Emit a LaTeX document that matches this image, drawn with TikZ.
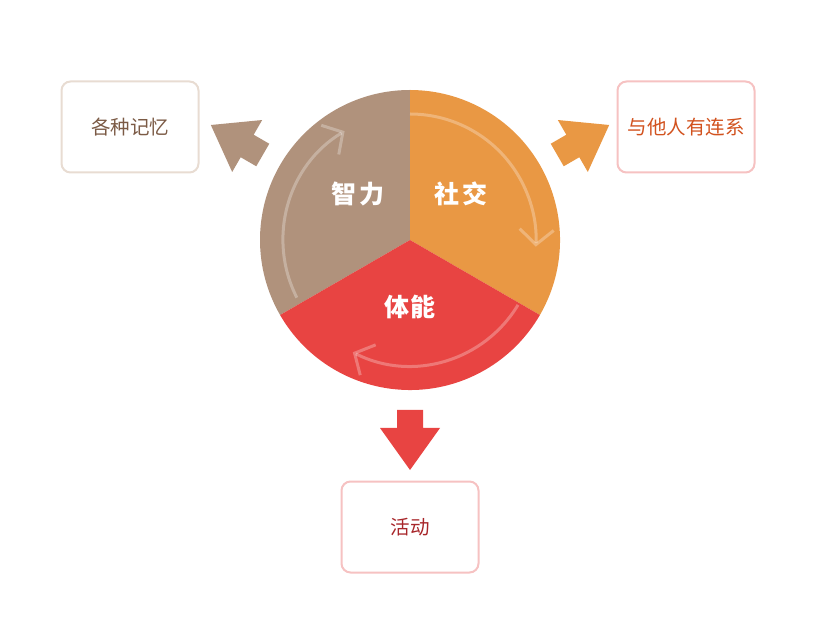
\documentclass[tikz,border=0pt]{standalone}
\usepackage{fontspec}
\newfontfamily\cjk{Noto Sans CJK SC}
\usetikzlibrary{arrows.meta}
\definecolor{cbrown}{HTML}{B0927C}
\definecolor{corange}{HTML}{E99844}
\definecolor{cred}{HTML}{E84442}
\definecolor{tbrown}{HTML}{7B5A45}
\definecolor{torange}{HTML}{D2521E}
\definecolor{tred}{HTML}{A8262A}
\definecolor{bbeige}{HTML}{E8DCD2}
\definecolor{bpink}{HTML}{F6C2C2}
\tikzset{
  infobox/.style={draw, line width=2pt, rounded corners=9pt, fill=white,
    minimum width=137pt, minimum height=91pt, inner sep=0pt,
    font=\cjk\fontsize{19.5}{19.5}\selectfont},
  seglabel/.style={text=white, font=\cjk\bfseries\fontsize{25}{25}\selectfont},
  cyclearc/.style={draw=white, draw opacity=0.28, line width=3pt,
    -{Straight Barb[length=15pt,width=34pt,line width=3pt]}},
}
\newcommand{\blockarrow}[2]{%
  \begin{scope}[shift={(410,384)}, rotate=#1]
    \fill[#2] (170,-13) -- (188,-13) -- (188,-30) -- (230,0) -- (188,30) -- (188,13) -- (170,13) -- cycle;
  \end{scope}}
\begin{document}
\begin{tikzpicture}[x=1pt,y=1pt]
\useasboundingbox (0,0) rectangle (816,624);
\coordinate (C) at (410,384);
% sectors
\fill[cbrown] (C) -- ++(90:150) arc[start angle=90,end angle=210,radius=150] -- cycle;
\fill[corange] (C) -- ++(-30:150) arc[start angle=-30,end angle=90,radius=150] -- cycle;
\fill[cred] (C) -- ++(210:150) arc[start angle=210,end angle=330,radius=150] -- cycle;
% cycle arcs
\draw[cyclearc] (C) ++(90:126) arc[start angle=90,end angle=-3,radius=126];
\draw[cyclearc] (C) ++(-31:126) arc[start angle=-31,end angle=-117,radius=126];
\draw[cyclearc] (C) ++(207:127) arc[start angle=207,end angle=121,radius=127];
% labels
\node[seglabel] (zhili) at (358,430) {智\hspace{3pt}力};
\node[seglabel] (shejiao) at (461,430) {社\hspace{3pt}交};
\node[seglabel] (tineng) at (410,317) {体\hspace{1pt}能};
% block arrows
\blockarrow{150}{cbrown}
\blockarrow{30}{corange}
\blockarrow{270}{cred}
% boxes
\node[infobox, draw=bbeige, text=tbrown] (memory) at (130,497) {各种记忆};
\node[infobox, draw=bpink, text=torange] (social) at (686,497) {与他人有连系};
\node[infobox, draw=bpink, text=tred] (activity) at (410,97) {活动};
\end{tikzpicture}
\end{document}
